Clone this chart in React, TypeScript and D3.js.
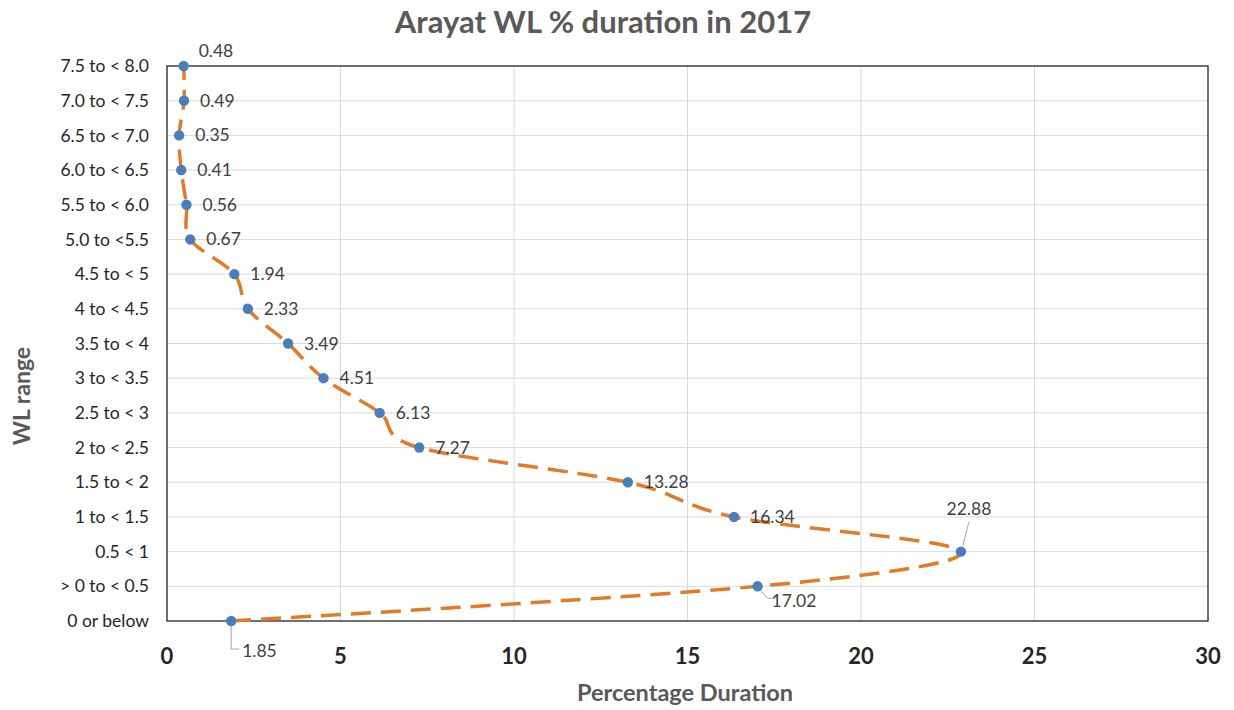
import React, { useEffect, useRef } from 'react';
import * as d3 from 'd3';

// WL range categories, bottom to top
const categories = [
  '0 or below', '> 0 to < 0.5', '0.5 < 1', '1 to < 1.5', '1.5 to < 2',
  '2 to < 2.5', '2.5 to < 3', '3 to < 3.5', '3.5 to < 4', '4 to < 4.5',
  '4.5 to < 5', '5.0 to <5.5', '5.5 to < 6.0', '6.0 to < 6.5',
  '6.5 to < 7.0', '7.0 to < 7.5', '7.5 to < 8.0',
];
const durations = [
  1.85, 17.02, 22.88, 16.34, 13.28, 7.27, 6.13, 4.51, 3.49, 2.33,
  1.94, 0.67, 0.56, 0.41, 0.35, 0.49, 0.48,
];
const xTicks = [0, 5, 10, 15, 20, 25, 30];

const W = 1234;
const H = 710;

const App = () => {
  const ref = useRef<SVGSVGElement>(null);

  useEffect(() => {
    const svg = d3.select(ref.current);
    svg.selectAll('*').remove();

    const left = 167, right = 1208, top = 66, bottom = 621;
    const font = 'Lato, "Open Sans", sans-serif';

    const x = d3.scaleLinear().domain([0, 30]).range([left, right]);
    const y = d3.scalePoint<string>().domain(categories).range([bottom, top]);

    svg.append('rect').attr('width', W).attr('height', H).attr('fill', '#fff');

    // grid
    svg.append('g').selectAll('line').data(xTicks.slice(1, -1)).enter().append('line')
      .attr('x1', d => x(d)).attr('x2', d => x(d))
      .attr('y1', top).attr('y2', bottom)
      .attr('stroke', '#d9d9d9').attr('stroke-width', 1);
    svg.append('g').selectAll('line').data(categories.slice(1, -1)).enter().append('line')
      .attr('x1', left).attr('x2', right)
      .attr('y1', d => y(d)!).attr('y2', d => y(d)!)
      .attr('stroke', '#d9d9d9').attr('stroke-width', 1);

    // plot border
    svg.append('rect')
      .attr('x', left).attr('y', top)
      .attr('width', right - left).attr('height', bottom - top)
      .attr('fill', 'none').attr('stroke', '#222').attr('stroke-width', 1.3);

    // title
    svg.append('text')
      .attr('x', 603).attr('y', 33)
      .attr('text-anchor', 'middle')
      .style('font-family', font).style('font-weight', 700).style('font-size', '31px')
      .attr('fill', '#595959')
      .text('Arayat WL % duration in 2017');

    // y tick labels
    svg.append('g').selectAll('text').data(categories).enter().append('text')
      .attr('x', 149).attr('y', d => y(d)!)
      .attr('dy', '0.35em').attr('text-anchor', 'end')
      .style('font-family', font).style('font-size', '17.5px')
      .attr('fill', '#262626')
      .text(d => d);

    // x tick labels
    svg.append('g').selectAll('text').data(xTicks).enter().append('text')
      .attr('x', d => x(d)).attr('y', 664)
      .attr('text-anchor', 'middle')
      .style('font-family', font).style('font-weight', 700).style('font-size', '22px')
      .attr('fill', '#262626')
      .text(d => d);

    // axis titles
    svg.append('text')
      .attr('x', 685).attr('y', 701)
      .attr('text-anchor', 'middle')
      .style('font-family', font).style('font-weight', 700).style('font-size', '23.5px')
      .attr('fill', '#595959')
      .text('Percentage Duration');
    svg.append('text')
      .attr('transform', 'translate(30,396) rotate(-90)')
      .attr('text-anchor', 'middle')
      .style('font-family', font).style('font-weight', 700).style('font-size', '23px')
      .attr('fill', '#595959')
      .text('WL range');

    const pts: [number, number][] = categories.map((c, i) => [x(durations[i]), y(c)!]);

    // smoothed dashed line
    const line = d3.line().curve(d3.curveCatmullRom.alpha(0));
    svg.append('path')
      .attr('d', line(pts))
      .attr('fill', 'none')
      .attr('stroke', '#e07b2a')
      .attr('stroke-width', 3.5)
      .attr('stroke-dasharray', '20,10');

    // leader lines
    const leaders: Record<number, string> = {
      0: `M${pts[0][0]},${pts[0][1] + 4} V${pts[0][1] + 28} H${pts[0][0] + 8}`,
      1: `M${pts[1][0] + 3},${pts[1][1] + 4} L${pts[1][0] + 10},${pts[1][1] + 12} H${pts[1][0] + 18}`,
      2: `M${pts[2][0] + 2},${pts[2][1] - 6} L${pts[2][0] + 8},${pts[2][1] - 30}`,
    };
    Object.values(leaders).forEach(d => {
      svg.append('path').attr('d', d).attr('fill', 'none')
        .attr('stroke', '#a6a6a6').attr('stroke-width', 1);
    });

    // markers
    svg.append('g').selectAll('circle').data(pts).enter().append('circle')
      .attr('cx', d => d[0]).attr('cy', d => d[1])
      .attr('r', 5.2).attr('fill', '#4a7ebb');

    // data labels
    const labelPos = (i: number): [number, number, string] => {
      const [px, py] = pts[i];
      if (i === 0) return [px + 11, py + 36, 'start'];
      if (i === 1) return [px + 14, py + 21, 'start'];
      if (i === 2) return [px + 8, py - 37, 'middle'];
      if (i === 16) return [px + 15, py - 9, 'start'];
      return [px + 16, py + 6, 'start'];
    };
    svg.append('g').selectAll('text').data(durations).enter().append('text')
      .attr('x', (_, i) => labelPos(i)[0])
      .attr('y', (_, i) => labelPos(i)[1])
      .attr('text-anchor', (_, i) => labelPos(i)[2])
      .style('font-family', font).style('font-size', '17.5px')
      .attr('fill', '#404040')
      .text(d => d.toFixed(2));
  }, []);

  return (
    <svg ref={ref} width={W} height={H}
      style={{ position: 'absolute', left: 0, top: 0, display: 'block' }} />
  );
};

export default App;
